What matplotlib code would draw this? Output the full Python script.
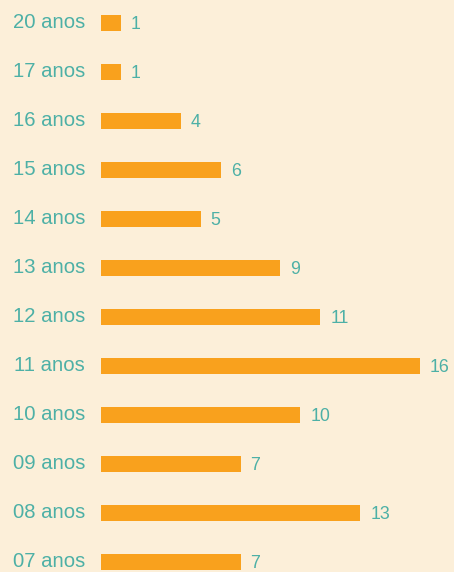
import matplotlib.pyplot as plt

# ages and counts, bottom to top
categories = ['07 anos', '08 anos', '09 anos', '10 anos', '11 anos', '12 anos',
              '13 anos', '14 anos', '15 anos', '16 anos', '17 anos', '20 anos']
counts = [7, 13, 7, 10, 16, 11, 9, 5, 6, 4, 1, 1]

bg = '#fcefd9'
bar_color = '#f9a11d'
text_color = '#4db0a6'

plt.rcParams['font.family'] = ['Liberation Sans', 'DejaVu Sans']

fig = plt.figure(figsize=(4.54, 5.72), dpi=100, facecolor=bg)
ax = fig.add_axes([0, 0, 1, 1])
ax.set_facecolor(bg)

ypos = list(range(len(categories)))
ax.barh(ypos, counts, height=0.31, color=bar_color)

for y, c, v in zip(ypos, categories, counts):
    ax.text(-0.8, y + 0.01, c, ha='right', va='center', fontsize=14.6, color=text_color)
    ax.text(v + 0.5, y - 0.04, str(v), ha='left', va='center', fontsize=12.8, color=text_color)

ax.set_xlim(-5.065, 17.70)
ax.set_ylim(-0.204, 11.469)
ax.axis('off')

fig.savefig('out.png', dpi=100, facecolor=bg)
